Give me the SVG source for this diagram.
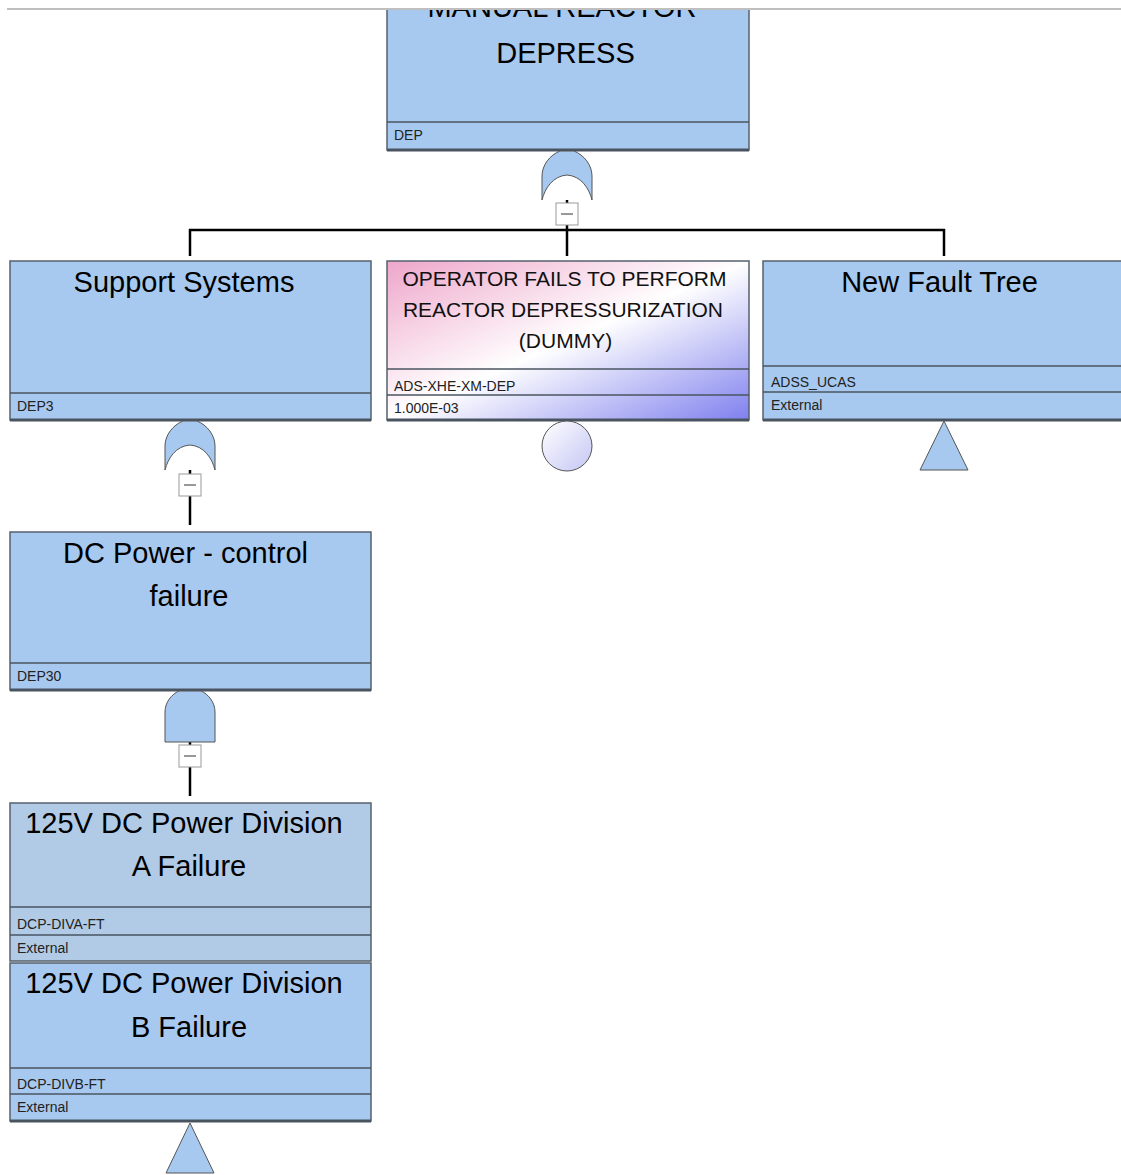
<svg xmlns="http://www.w3.org/2000/svg" width="1121" height="1175" viewBox="0 0 1121 1175">
<style>
.box{fill:#a8c9ef;stroke:#56606c;stroke-width:1.5}
.boxg{fill:#b1cbe6;stroke:#56606c;stroke-width:1.5}
.row{fill:none;stroke:#4a5460;stroke-width:1.5}
.base{stroke:#4a5460;stroke-width:3}
.t{font-family:"Liberation Sans",Arial,sans-serif;font-size:29px;fill:#000;text-anchor:middle}
.to{font-family:"Liberation Sans",Arial,sans-serif;font-size:21px;fill:#111;text-anchor:middle}
.s{font-family:"Liberation Sans",Arial,sans-serif;font-size:14px;fill:#222}
.gate{fill:#a8c9ef;stroke:#555;stroke-width:1}
.mb{fill:#fff;stroke:#999;stroke-width:1}
.mm{stroke:#333;stroke-width:1}
.c{fill:none;stroke:#000;stroke-width:2.5}
</style>
<defs>
<linearGradient id="opg" x1="0" y1="0" x2="1" y2="1">
<stop offset="0" stop-color="#eea6ca"/>
<stop offset="0.5" stop-color="#ffffff"/>
<stop offset="1" stop-color="#7f80ee"/>
</linearGradient>
<linearGradient id="cg" x1="0" y1="0" x2="1" y2="1">
<stop offset="0" stop-color="#ffffff"/>
<stop offset="1" stop-color="#c4c6f4"/>
</linearGradient>
<clipPath id="topclip"><rect x="0" y="10" width="1121" height="1165"/></clipPath>
</defs>
<rect x="0" y="0" width="1121" height="1175" fill="#fff"/>

<g id="connectors">
<line class="c" x1="567" y1="200" x2="567" y2="230"/>
<line class="c" x1="189" y1="230" x2="945" y2="230"/>
<line class="c" x1="190" y1="229" x2="190" y2="256"/>
<line class="c" x1="567" y1="229" x2="567" y2="256"/>
<line class="c" x1="944" y1="229" x2="944" y2="256"/>
<line class="c" x1="190" y1="470" x2="190" y2="525"/>
<line class="c" x1="190" y1="742" x2="190" y2="796"/>
</g>

<g id="node-DEP" clip-path="url(#topclip)">
<rect class="box" x="387" y="0" width="362" height="150"/>
<line class="row" x1="387" y1="122" x2="749" y2="122"/>
<line class="base" x1="387" y1="150" x2="749" y2="150"/>
<text class="t" x="562" y="17">MANUAL REACTOR</text>
<text class="t" x="565.5" y="63">DEPRESS</text>
<text class="s" x="394" y="140">DEP</text>
</g>
<line x1="7" y1="9" x2="1121" y2="9" stroke="#aaa" stroke-width="1.5"/>

<g id="gate-DEP">
<path class="gate" d="M542,200 L542,176 C542,165 550,155 560,151 L574,151 C584,155 592,165 592,176 L592,200 C589,188 581,176 567,175 C553,176 545,188 542,200 Z"/>
<rect class="mb" x="556" y="203" width="22" height="22"/>
<line class="mm" x1="561" y1="214" x2="573" y2="214"/>
</g>

<g id="node-DEP3">
<rect class="box" x="10" y="261" width="361" height="159"/>
<line class="row" x1="10" y1="393" x2="371" y2="393"/>
<line class="base" x1="10" y1="420" x2="371" y2="420"/>
<text class="t" x="184" y="292">Support Systems</text>
<text class="s" x="17" y="411">DEP3</text>
</g>
<g id="gate-DEP3">
<path class="gate" d="M165,470 L165,446 C165,435 173,425 183,421 L197,421 C207,425 215,435 215,446 L215,470 C212,458 204,446 190,445 C176,446 168,458 165,470 Z"/>
<rect class="mb" x="179" y="474" width="22" height="22"/>
<line class="mm" x1="184" y1="485" x2="196" y2="485"/>
</g>

<g id="node-ADS-XHE-XM-DEP">
<rect x="387" y="261" width="362" height="159" fill="url(#opg)" stroke="#56606c" stroke-width="1.5"/>
<line class="row" x1="387" y1="369" x2="749" y2="369"/>
<line class="row" x1="387" y1="395" x2="749" y2="395"/>
<line class="base" x1="387" y1="420" x2="749" y2="420"/>
<text class="to" x="564.5" y="286">OPERATOR FAILS TO PERFORM</text>
<text class="to" x="563" y="317">REACTOR DEPRESSURIZATION</text>
<text class="to" x="565.5" y="348">(DUMMY)</text>
<text class="s" x="394" y="391">ADS-XHE-XM-DEP</text>
<text class="s" x="394" y="413">1.000E-03</text>
<circle cx="567" cy="446" r="25" fill="url(#cg)" stroke="#555" stroke-width="1"/>
</g>

<g id="node-ADSS_UCAS">
<rect class="box" x="763" y="261" width="364" height="159"/>
<line class="row" x1="763" y1="366" x2="1127" y2="366"/>
<line class="row" x1="763" y1="392" x2="1127" y2="392"/>
<line class="base" x1="763" y1="420" x2="1127" y2="420"/>
<text class="t" x="939.5" y="292">New Fault Tree</text>
<text class="s" x="771" y="387">ADSS_UCAS</text>
<text class="s" x="771" y="410">External</text>
<polygon class="gate" points="944,421 968,470 920,470"/>
</g>

<g id="node-DEP30">
<rect class="box" x="10" y="532" width="361" height="158"/>
<line class="row" x1="10" y1="663" x2="371" y2="663"/>
<line class="base" x1="10" y1="690" x2="371" y2="690"/>
<text class="t" x="185.5" y="563">DC Power - control</text>
<text class="t" x="189" y="606">failure</text>
<text class="s" x="17" y="681">DEP30</text>
</g>
<g id="gate-DEP30">
<path class="gate" d="M165,742 L165,712 C165,702 172,694 179,691 L201,691 C208,694 215,702 215,712 L215,742 Z"/>
<rect class="mb" x="179" y="745" width="22" height="22"/>
<line class="mm" x1="184" y1="756" x2="196" y2="756"/>
</g>

<g id="node-DCP-DIVA-FT">
<rect class="boxg" x="10" y="803" width="361" height="158"/>
<line class="row" x1="10" y1="907" x2="371" y2="907"/>
<line class="row" x1="10" y1="935" x2="371" y2="935"/>
<text class="t" x="184" y="833">125V DC Power Division</text>
<text class="t" x="189" y="876">A Failure</text>
<text class="s" x="17" y="929">DCP-DIVA-FT</text>
<text class="s" x="17" y="953">External</text>
</g>

<g id="node-DCP-DIVB-FT">
<rect class="box" x="10" y="963" width="361" height="158"/>
<line class="row" x1="10" y1="1068" x2="371" y2="1068"/>
<line class="row" x1="10" y1="1094" x2="371" y2="1094"/>
<line class="base" x1="10" y1="1121" x2="371" y2="1121"/>
<text class="t" x="184" y="993">125V DC Power Division</text>
<text class="t" x="189" y="1037">B Failure</text>
<text class="s" x="17" y="1089">DCP-DIVB-FT</text>
<text class="s" x="17" y="1112">External</text>
<polygon class="gate" points="190,1123 214,1173 166,1173"/>
</g>
</svg>
